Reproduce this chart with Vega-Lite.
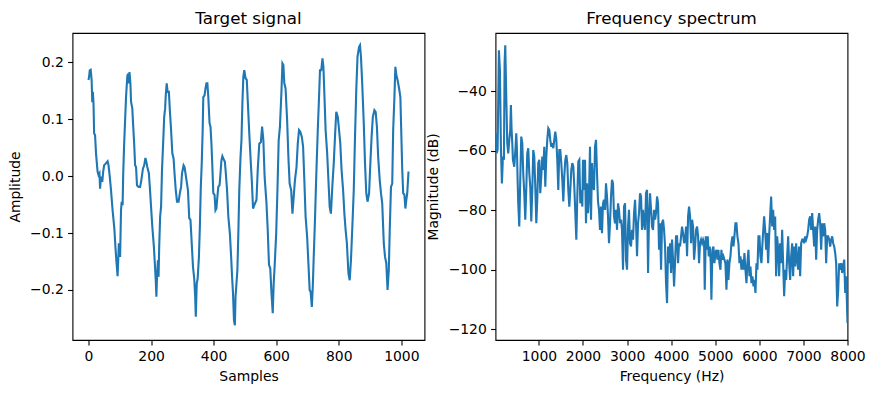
{
"$schema": "https://vega.github.io/schema/vega-lite/v6.json",
"background": "white",
"padding": {"left": 7.5, "top": 10, "right": 5, "bottom": 5},
"spacing": -1,
"config": {
  "font": "DejaVu Sans",
  "view": {"stroke": "black", "strokeWidth": 1.1},
  "axis": {"domain": false, "grid": false, "ticks": true, "tickColor": "black", "tickSize": 4.9, "tickWidth": 1.1, "labelFont": "DejaVu Sans", "labelFontSize": 13.9, "labelColor": "black", "labelPadding": 4.3, "labelOverlap": false, "labelBound": false, "labelFlush": false, "titleFont": "DejaVu Sans", "titleFontSize": 13.9, "titleFontWeight": "normal", "titleColor": "black"},
  "axisX": {"titlePadding": 6},
  "title": {"font": "DejaVu Sans", "fontSize": 16.7, "fontWeight": "normal", "color": "black", "baseline": "alphabetic", "offset": 5}
},
"datasets": {
"signal": [
{"sample":0,"amplitude":0.169},{"sample":2,"amplitude":0.175},{"sample":4,"amplitude":0.186},{"sample":7,"amplitude":0.187},{"sample":10,"amplitude":0.169},{"sample":12,"amplitude":0.13},{"sample":14,"amplitude":0.148},{"sample":16,"amplitude":0.128},{"sample":18,"amplitude":0.075},{"sample":21,"amplitude":0.072},{"sample":24,"amplitude":0.04},{"sample":29,"amplitude":0.008},{"sample":32,"amplitude":0.002},{"sample":35,"amplitude":0.005},{"sample":37,"amplitude":-0.022},{"sample":40,"amplitude":-0.001},{"sample":44,"amplitude":-0.01},{"sample":47,"amplitude":0.008},{"sample":50,"amplitude":0.019},{"sample":55,"amplitude":0.022},{"sample":61,"amplitude":0.026},{"sample":64,"amplitude":0.019},{"sample":68,"amplitude":-0.001},{"sample":72,"amplitude":-0.025},{"sample":77,"amplitude":-0.06},{"sample":80,"amplitude":-0.077},{"sample":83,"amplitude":-0.095},{"sample":86,"amplitude":-0.124},{"sample":89,"amplitude":-0.148},{"sample":93,"amplitude":-0.176},{"sample":95,"amplitude":-0.148},{"sample":97,"amplitude":-0.118},{"sample":99,"amplitude":-0.121},{"sample":101,"amplitude":-0.142},{"sample":104,"amplitude":-0.06},{"sample":106,"amplitude":-0.045},{"sample":109,"amplitude":-0.051},{"sample":111,"amplitude":0.005},{"sample":114,"amplitude":0.057},{"sample":117,"amplitude":0.098},{"sample":120,"amplitude":0.139},{"sample":124,"amplitude":0.175},{"sample":126,"amplitude":0.18},{"sample":128,"amplitude":0.163},{"sample":131,"amplitude":0.183},{"sample":134,"amplitude":0.163},{"sample":136,"amplitude":0.131},{"sample":140,"amplitude":0.119},{"sample":143,"amplitude":0.087},{"sample":146,"amplitude":0.057},{"sample":149,"amplitude":0.019},{"sample":152,"amplitude":0.016},{"sample":155,"amplitude":-0.016},{"sample":160,"amplitude":-0.019},{"sample":165,"amplitude":-0.019},{"sample":169,"amplitude":-0.007},{"sample":174,"amplitude":0.013},{"sample":178,"amplitude":0.019},{"sample":182,"amplitude":0.032},{"sample":185,"amplitude":0.025},{"sample":188,"amplitude":0.016},{"sample":193,"amplitude":0.005},{"sample":196,"amplitude":-0.019},{"sample":200,"amplitude":-0.054},{"sample":204,"amplitude":-0.089},{"sample":209,"amplitude":-0.124},{"sample":212,"amplitude":-0.153},{"sample":215,"amplitude":-0.183},{"sample":217,"amplitude":-0.212},{"sample":219,"amplitude":-0.177},{"sample":222,"amplitude":-0.148},{"sample":224,"amplitude":-0.177},{"sample":226,"amplitude":-0.124},{"sample":229,"amplitude":-0.071},{"sample":232,"amplitude":-0.054},{"sample":235,"amplitude":0.011},{"sample":239,"amplitude":0.063},{"sample":242,"amplitude":0.104},{"sample":245,"amplitude":0.119},{"sample":247,"amplitude":0.142},{"sample":250,"amplitude":0.163},{"sample":253,"amplitude":0.148},{"sample":257,"amplitude":0.148},{"sample":260,"amplitude":0.116},{"sample":264,"amplitude":0.081},{"sample":268,"amplitude":0.04},{"sample":272,"amplitude":0.031},{"sample":275,"amplitude":0.005},{"sample":279,"amplitude":-0.025},{"sample":283,"amplitude":-0.045},{"sample":288,"amplitude":-0.045},{"sample":292,"amplitude":-0.03},{"sample":296,"amplitude":-0.019},{"sample":299,"amplitude":0.005},{"sample":304,"amplitude":0.019},{"sample":307,"amplitude":0.016},{"sample":310,"amplitude":0.005},{"sample":314,"amplitude":-0.01},{"sample":318,"amplitude":-0.025},{"sample":322,"amplitude":-0.074},{"sample":326,"amplitude":-0.077},{"sample":330,"amplitude":-0.118},{"sample":334,"amplitude":-0.159},{"sample":338,"amplitude":-0.18},{"sample":341,"amplitude":-0.212},{"sample":343,"amplitude":-0.247},{"sample":346,"amplitude":-0.189},{"sample":349,"amplitude":-0.18},{"sample":353,"amplitude":-0.142},{"sample":356,"amplitude":-0.089},{"sample":359,"amplitude":-0.019},{"sample":362,"amplitude":0.022},{"sample":365,"amplitude":0.081},{"sample":367,"amplitude":0.139},{"sample":371,"amplitude":0.142},{"sample":374,"amplitude":0.154},{"sample":377,"amplitude":0.163},{"sample":380,"amplitude":0.163},{"sample":383,"amplitude":0.139},{"sample":387,"amplitude":0.093},{"sample":390,"amplitude":0.087},{"sample":393,"amplitude":0.057},{"sample":396,"amplitude":0.016},{"sample":399,"amplitude":-0.03},{"sample":403,"amplitude":-0.033},{"sample":406,"amplitude":-0.06},{"sample":409,"amplitude":-0.057},{"sample":412,"amplitude":-0.036},{"sample":415,"amplitude":-0.019},{"sample":419,"amplitude":-0.016},{"sample":422,"amplitude":0.005},{"sample":425,"amplitude":0.028},{"sample":428,"amplitude":0.035},{"sample":431,"amplitude":0.031},{"sample":436,"amplitude":0.025},{"sample":439,"amplitude":0.005},{"sample":443,"amplitude":-0.025},{"sample":447,"amplitude":-0.071},{"sample":452,"amplitude":-0.101},{"sample":456,"amplitude":-0.142},{"sample":459,"amplitude":-0.177},{"sample":462,"amplitude":-0.206},{"sample":465,"amplitude":-0.253},{"sample":468,"amplitude":-0.262},{"sample":470,"amplitude":-0.212},{"sample":473,"amplitude":-0.189},{"sample":476,"amplitude":-0.165},{"sample":479,"amplitude":-0.101},{"sample":482,"amplitude":-0.025},{"sample":486,"amplitude":0.034},{"sample":489,"amplitude":0.063},{"sample":492,"amplitude":0.128},{"sample":495,"amplitude":0.175},{"sample":498,"amplitude":0.186},{"sample":502,"amplitude":0.172},{"sample":506,"amplitude":0.169},{"sample":510,"amplitude":0.122},{"sample":514,"amplitude":0.075},{"sample":519,"amplitude":0.022},{"sample":522,"amplitude":-0.007},{"sample":526,"amplitude":-0.057},{"sample":530,"amplitude":-0.051},{"sample":537,"amplitude":-0.042},{"sample":541,"amplitude":0.011},{"sample":546,"amplitude":0.057},{"sample":551,"amplitude":0.06},{"sample":555,"amplitude":0.087},{"sample":559,"amplitude":0.063},{"sample":563,"amplitude":-0.001},{"sample":569,"amplitude":-0.048},{"sample":573,"amplitude":-0.095},{"sample":577,"amplitude":-0.156},{"sample":581,"amplitude":-0.162},{"sample":585,"amplitude":-0.206},{"sample":589,"amplitude":-0.241},{"sample":592,"amplitude":-0.189},{"sample":595,"amplitude":-0.159},{"sample":600,"amplitude":-0.101},{"sample":604,"amplitude":-0.025},{"sample":608,"amplitude":0.063},{"sample":612,"amplitude":0.087},{"sample":617,"amplitude":0.151},{"sample":620,"amplitude":0.198},{"sample":623,"amplitude":0.195},{"sample":626,"amplitude":0.163},{"sample":630,"amplitude":0.154},{"sample":635,"amplitude":0.098},{"sample":639,"amplitude":0.034},{"sample":643,"amplitude":-0.013},{"sample":648,"amplitude":-0.025},{"sample":652,"amplitude":-0.066},{"sample":656,"amplitude":-0.036},{"sample":660,"amplitude":-0.007},{"sample":665,"amplitude":0.016},{"sample":669,"amplitude":0.057},{"sample":673,"amplitude":0.081},{"sample":677,"amplitude":0.078},{"sample":682,"amplitude":0.069},{"sample":686,"amplitude":0.052},{"sample":690,"amplitude":-0.007},{"sample":694,"amplitude":-0.071},{"sample":699,"amplitude":-0.107},{"sample":703,"amplitude":-0.153},{"sample":707,"amplitude":-0.2},{"sample":710,"amplitude":-0.203},{"sample":714,"amplitude":-0.23},{"sample":717,"amplitude":-0.194},{"sample":720,"amplitude":-0.142},{"sample":724,"amplitude":-0.077},{"sample":728,"amplitude":-0.001},{"sample":733,"amplitude":0.081},{"sample":737,"amplitude":0.139},{"sample":740,"amplitude":0.186},{"sample":744,"amplitude":0.186},{"sample":748,"amplitude":0.207},{"sample":751,"amplitude":0.192},{"sample":754,"amplitude":0.145},{"sample":758,"amplitude":0.081},{"sample":763,"amplitude":0.04},{"sample":767,"amplitude":-0.007},{"sample":771,"amplitude":-0.054},{"sample":775,"amplitude":-0.066},{"sample":780,"amplitude":-0.013},{"sample":784,"amplitude":0.022},{"sample":788,"amplitude":0.069},{"sample":792,"amplitude":0.113},{"sample":797,"amplitude":0.104},{"sample":801,"amplitude":0.081},{"sample":805,"amplitude":0.057},{"sample":809,"amplitude":0.011},{"sample":814,"amplitude":-0.025},{"sample":818,"amplitude":-0.066},{"sample":822,"amplitude":-0.095},{"sample":826,"amplitude":-0.118},{"sample":831,"amplitude":-0.171},{"sample":835,"amplitude":-0.183},{"sample":839,"amplitude":-0.148},{"sample":843,"amplitude":-0.095},{"sample":848,"amplitude":-0.025},{"sample":852,"amplitude":0.069},{"sample":856,"amplitude":0.151},{"sample":860,"amplitude":0.21},{"sample":865,"amplitude":0.227},{"sample":868,"amplitude":0.23},{"sample":871,"amplitude":0.21},{"sample":875,"amplitude":0.163},{"sample":880,"amplitude":0.093},{"sample":884,"amplitude":0.022},{"sample":888,"amplitude":-0.03},{"sample":892,"amplitude":-0.045},{"sample":897,"amplitude":-0.03},{"sample":901,"amplitude":0.022},{"sample":905,"amplitude":0.069},{"sample":909,"amplitude":0.104},{"sample":914,"amplitude":0.116},{"sample":918,"amplitude":0.113},{"sample":922,"amplitude":0.087},{"sample":926,"amplitude":0.034},{"sample":931,"amplitude":-0.007},{"sample":935,"amplitude":-0.03},{"sample":939,"amplitude":-0.048},{"sample":944,"amplitude":-0.118},{"sample":948,"amplitude":-0.142},{"sample":952,"amplitude":-0.153},{"sample":956,"amplitude":-0.2},{"sample":960,"amplitude":-0.165},{"sample":963,"amplitude":-0.095},{"sample":967,"amplitude":-0.019},{"sample":971,"amplitude":-0.013},{"sample":974,"amplitude":0.081},{"sample":978,"amplitude":0.139},{"sample":981,"amplitude":0.192},{"sample":984,"amplitude":0.178},{"sample":988,"amplitude":0.169},{"sample":993,"amplitude":0.154},{"sample":997,"amplitude":0.139},{"sample":1000,"amplitude":0.075},{"sample":1003,"amplitude":0.011},{"sample":1006,"amplitude":-0.03},{"sample":1010,"amplitude":-0.033},{"sample":1013,"amplitude":-0.057},{"sample":1016,"amplitude":-0.042},{"sample":1019,"amplitude":-0.03},{"sample":1023,"amplitude":0.008}
],
"spectrum": [
{"frequency":15.6,"magnitude":-54},{"frequency":40,"magnitude":-60.9},{"frequency":63,"magnitude":-59.8},{"frequency":93,"magnitude":-26.3},{"frequency":116,"magnitude":-33},{"frequency":138,"magnitude":-58.7},{"frequency":161,"magnitude":-71},{"frequency":184,"magnitude":-62},{"frequency":207,"magnitude":-63.1},{"frequency":222,"magnitude":-30.7},{"frequency":237,"magnitude":-24.6},{"frequency":260,"magnitude":-41.9},{"frequency":282,"magnitude":-57.5},{"frequency":305,"magnitude":-60.9},{"frequency":328,"magnitude":-56.4},{"frequency":350,"magnitude":-53.1},{"frequency":365,"magnitude":-44.7},{"frequency":381,"magnitude":-53.1},{"frequency":396,"magnitude":-57.5},{"frequency":411,"magnitude":-63.1},{"frequency":426,"magnitude":-64.2},{"frequency":441,"magnitude":-65.4},{"frequency":456,"magnitude":-62},{"frequency":471,"magnitude":-58.7},{"frequency":487,"magnitude":-54.2},{"frequency":502,"magnitude":-59.8},{"frequency":517,"magnitude":-69.8},{"frequency":532,"magnitude":-77.7},{"frequency":555,"magnitude":-85.5},{"frequency":577,"magnitude":-69.8},{"frequency":600,"magnitude":-55.3},{"frequency":623,"magnitude":-57.5},{"frequency":645,"magnitude":-67.6},{"frequency":668,"magnitude":-74.3},{"frequency":691,"magnitude":-83.2},{"frequency":713,"magnitude":-73.2},{"frequency":736,"magnitude":-60.9},{"frequency":759,"magnitude":-59.2},{"frequency":782,"magnitude":-67.6},{"frequency":804,"magnitude":-72.1},{"frequency":827,"magnitude":-83.8},{"frequency":850,"magnitude":-73.2},{"frequency":872,"magnitude":-59.8},{"frequency":895,"magnitude":-62},{"frequency":918,"magnitude":-72.1},{"frequency":941,"magnitude":-84.4},{"frequency":963,"magnitude":-76.5},{"frequency":986,"magnitude":-64.2},{"frequency":1009,"magnitude":-63.1},{"frequency":1031,"magnitude":-74.3},{"frequency":1054,"magnitude":-68.7},{"frequency":1077,"magnitude":-62},{"frequency":1099,"magnitude":-66.5},{"frequency":1122,"magnitude":-58.7},{"frequency":1145,"magnitude":-72.1},{"frequency":1168,"magnitude":-62},{"frequency":1190,"magnitude":-56.4},{"frequency":1213,"magnitude":-52.5},{"frequency":1236,"magnitude":-53.1},{"frequency":1258,"magnitude":-56.4},{"frequency":1281,"magnitude":-58.7},{"frequency":1304,"magnitude":-57.5},{"frequency":1327,"magnitude":-59.2},{"frequency":1349,"magnitude":-56.4},{"frequency":1372,"magnitude":-53.6},{"frequency":1395,"magnitude":-56.4},{"frequency":1417,"magnitude":-63.1},{"frequency":1440,"magnitude":-73.2},{"frequency":1463,"magnitude":-59.8},{"frequency":1485,"magnitude":-59.8},{"frequency":1508,"magnitude":-64.2},{"frequency":1531,"magnitude":-69.8},{"frequency":1554,"magnitude":-77.1},{"frequency":1576,"magnitude":-68.7},{"frequency":1599,"magnitude":-63.1},{"frequency":1622,"magnitude":-61.5},{"frequency":1644,"magnitude":-64.2},{"frequency":1667,"magnitude":-73.2},{"frequency":1690,"magnitude":-78.8},{"frequency":1712,"magnitude":-73.2},{"frequency":1735,"magnitude":-66.5},{"frequency":1758,"magnitude":-64.2},{"frequency":1781,"magnitude":-65.4},{"frequency":1803,"magnitude":-72.1},{"frequency":1826,"magnitude":-81},{"frequency":1849,"magnitude":-89.9},{"frequency":1871,"magnitude":-75.4},{"frequency":1894,"magnitude":-63.7},{"frequency":1917,"magnitude":-63.1},{"frequency":1939,"magnitude":-77.7},{"frequency":1962,"magnitude":-73.2},{"frequency":1985,"magnitude":-78.8},
{"frequency":2000,"magnitude":-63.1},{"frequency":2023,"magnitude":-73.2},{"frequency":2046,"magnitude":-63.1},{"frequency":2068,"magnitude":-84.4},{"frequency":2091,"magnitude":-71},{"frequency":2114,"magnitude":-81},{"frequency":2136,"magnitude":-75.4},{"frequency":2159,"magnitude":-58.7},{"frequency":2182,"magnitude":-83.2},{"frequency":2204,"magnitude":-64.2},{"frequency":2227,"magnitude":-72.1},{"frequency":2250,"magnitude":-73.2},{"frequency":2273,"magnitude":-58.7},{"frequency":2295,"magnitude":-56.4},{"frequency":2318,"magnitude":-67.6},{"frequency":2341,"magnitude":-77.1},{"frequency":2363,"magnitude":-79.9},{"frequency":2386,"magnitude":-86.6},{"frequency":2409,"magnitude":-78.8},{"frequency":2431,"magnitude":-87.7},{"frequency":2454,"magnitude":-77.7},{"frequency":2477,"magnitude":-76.5},{"frequency":2500,"magnitude":-79.9},{"frequency":2522,"magnitude":-71},{"frequency":2545,"magnitude":-75.4},{"frequency":2568,"magnitude":-82.1},{"frequency":2590,"magnitude":-91.1},{"frequency":2613,"magnitude":-84.4},{"frequency":2636,"magnitude":-75.4},{"frequency":2658,"magnitude":-69.8},{"frequency":2681,"magnitude":-71},{"frequency":2704,"magnitude":-82.1},{"frequency":2727,"magnitude":-84.4},{"frequency":2749,"magnitude":-79.9},{"frequency":2772,"magnitude":-86.6},{"frequency":2795,"magnitude":-77.7},{"frequency":2817,"magnitude":-79.9},{"frequency":2840,"magnitude":-84.4},{"frequency":2863,"magnitude":-83.2},{"frequency":2885,"magnitude":-86.6},{"frequency":2908,"magnitude":-100},{"frequency":2931,"magnitude":-78.8},{"frequency":2954,"magnitude":-77.7},{"frequency":2976,"magnitude":-96.6},{"frequency":2999,"magnitude":-100},{"frequency":3022,"magnitude":-85.5},{"frequency":3044,"magnitude":-79.9},{"frequency":3067,"magnitude":-91.1},{"frequency":3090,"magnitude":-92.2},{"frequency":3112,"magnitude":-86.6},{"frequency":3135,"magnitude":-89.9},{"frequency":3158,"magnitude":-81},{"frequency":3181,"magnitude":-76.5},{"frequency":3203,"magnitude":-84.4},{"frequency":3226,"magnitude":-95.5},{"frequency":3249,"magnitude":-84.4},{"frequency":3271,"magnitude":-81},{"frequency":3294,"magnitude":-74.3},{"frequency":3317,"magnitude":-75.4},{"frequency":3339,"magnitude":-86.6},{"frequency":3362,"magnitude":-79.9},{"frequency":3385,"magnitude":-84.4},{"frequency":3408,"magnitude":-86.6},{"frequency":3430,"magnitude":-74.3},{"frequency":3453,"magnitude":-73.2},{"frequency":3476,"magnitude":-101.1},{"frequency":3498,"magnitude":-82.1},{"frequency":3521,"magnitude":-74.3},{"frequency":3544,"magnitude":-79.9},{"frequency":3566,"magnitude":-85.5},{"frequency":3589,"magnitude":-86.6},{"frequency":3612,"magnitude":-79.9},{"frequency":3635,"magnitude":-83.2},{"frequency":3657,"magnitude":-81},{"frequency":3680,"magnitude":-75.4},{"frequency":3703,"magnitude":-77.7},{"frequency":3725,"magnitude":-93.3},{"frequency":3748,"magnitude":-84.4},{"frequency":3771,"magnitude":-100},{"frequency":3793,"magnitude":-84.4},{"frequency":3816,"magnitude":-83.2},{"frequency":3839,"magnitude":-86.6},{"frequency":3862,"magnitude":-92.2},{"frequency":3884,"magnitude":-104.5},{"frequency":3907,"magnitude":-111.2},{"frequency":3930,"magnitude":-92.2},{"frequency":3952,"magnitude":-97.8},{"frequency":3975,"magnitude":-91.1},{"frequency":3998,"magnitude":-101.1},{"frequency":4020,"magnitude":-89.9},{"frequency":4043,"magnitude":-96.6},{"frequency":4066,"magnitude":-105.6},
{"frequency":4088,"magnitude":-97.8},{"frequency":4111,"magnitude":-88.8},{"frequency":4134,"magnitude":-88.8},{"frequency":4157,"magnitude":-97.8},{"frequency":4179,"magnitude":-91.1},{"frequency":4202,"magnitude":-92.2},{"frequency":4225,"magnitude":-88.8},{"frequency":4247,"magnitude":-85.5},{"frequency":4270,"magnitude":-87.7},{"frequency":4293,"magnitude":-91.1},{"frequency":4316,"magnitude":-89.9},{"frequency":4338,"magnitude":-85.5},{"frequency":4361,"magnitude":-95.5},{"frequency":4384,"magnitude":-82.1},{"frequency":4406,"magnitude":-78.8},{"frequency":4429,"magnitude":-82.1},{"frequency":4452,"magnitude":-91.1},{"frequency":4475,"magnitude":-83.2},{"frequency":4497,"magnitude":-85.5},{"frequency":4520,"magnitude":-96.6},{"frequency":4543,"magnitude":-92.2},{"frequency":4565,"magnitude":-86.6},{"frequency":4588,"magnitude":-85.5},{"frequency":4611,"magnitude":-88.8},{"frequency":4633,"magnitude":-97.8},{"frequency":4656,"magnitude":-91.1},{"frequency":4679,"magnitude":-89.9},{"frequency":4702,"magnitude":-91.1},{"frequency":4724,"magnitude":-89.9},{"frequency":4747,"magnitude":-91.1},{"frequency":4762,"magnitude":-106.7},{"frequency":4785,"magnitude":-88.8},{"frequency":4808,"magnitude":-93.3},{"frequency":4830,"magnitude":-88.8},{"frequency":4853,"magnitude":-95.5},{"frequency":4876,"magnitude":-92.2},{"frequency":4898,"magnitude":-97.8},{"frequency":4913,"magnitude":-110.1},{"frequency":4936,"magnitude":-93.3},{"frequency":4959,"magnitude":-92.2},{"frequency":4981,"magnitude":-97.8},{"frequency":5004,"magnitude":-94.4},{"frequency":5027,"magnitude":-93.3},{"frequency":5049,"magnitude":-96.6},{"frequency":5072,"magnitude":-93.3},{"frequency":5095,"magnitude":-97.8},{"frequency":5118,"magnitude":-100},{"frequency":5140,"magnitude":-93.3},{"frequency":5163,"magnitude":-96.6},{"frequency":5186,"magnitude":-95.5},{"frequency":5208,"magnitude":-96.6},{"frequency":5231,"magnitude":-97.8},{"frequency":5254,"magnitude":-106.7},{"frequency":5276,"magnitude":-96.6},{"frequency":5299,"magnitude":-103.4},{"frequency":5322,"magnitude":-97.8},{"frequency":5345,"magnitude":-95.5},{"frequency":5367,"magnitude":-91.1},{"frequency":5390,"magnitude":-88.8},{"frequency":5413,"magnitude":-92.2},{"frequency":5435,"magnitude":-88.8},{"frequency":5458,"magnitude":-84.4},{"frequency":5481,"magnitude":-84.4},{"frequency":5503,"magnitude":-88.8},{"frequency":5526,"magnitude":-91.1},{"frequency":5549,"magnitude":-97.8},{"frequency":5572,"magnitude":-95.5},{"frequency":5594,"magnitude":-100},{"frequency":5617,"magnitude":-96.6},{"frequency":5640,"magnitude":-100},{"frequency":5662,"magnitude":-94.4},{"frequency":5685,"magnitude":-100},{"frequency":5708,"magnitude":-104.5},{"frequency":5730,"magnitude":-97.8},{"frequency":5753,"magnitude":-93.3},{"frequency":5776,"magnitude":-102.2},{"frequency":5799,"magnitude":-98.9},{"frequency":5821,"magnitude":-104.5},{"frequency":5844,"magnitude":-102.2},{"frequency":5867,"magnitude":-105.6},{"frequency":5889,"magnitude":-103.4},{"frequency":5912,"magnitude":-107.8},{"frequency":5935,"magnitude":-97.8},{"frequency":5957,"magnitude":-100},{"frequency":5980,"magnitude":-88.8},{"frequency":6003,"magnitude":-88.8},{"frequency":6025,"magnitude":-95.5},{"frequency":6048,"magnitude":-97.8},{"frequency":6071,"magnitude":-91.1},{"frequency":6109,"magnitude":-82.1},
{"frequency":6132,"magnitude":-86.6},{"frequency":6154,"magnitude":-93.3},{"frequency":6177,"magnitude":-87.7},{"frequency":6200,"magnitude":-97.8},{"frequency":6222,"magnitude":-88.8},{"frequency":6245,"magnitude":-82.1},{"frequency":6268,"magnitude":-75.4},{"frequency":6291,"magnitude":-85.5},{"frequency":6313,"magnitude":-79.9},{"frequency":6336,"magnitude":-86.6},{"frequency":6359,"magnitude":-82.1},{"frequency":6381,"magnitude":-102.2},{"frequency":6404,"magnitude":-88.8},{"frequency":6427,"magnitude":-93.3},{"frequency":6449,"magnitude":-102.2},{"frequency":6472,"magnitude":-91.1},{"frequency":6495,"magnitude":-97.8},{"frequency":6518,"magnitude":-86.6},{"frequency":6540,"magnitude":-97.8},{"frequency":6563,"magnitude":-108.9},{"frequency":6586,"magnitude":-100},{"frequency":6608,"magnitude":-103.4},{"frequency":6631,"magnitude":-95.5},{"frequency":6654,"magnitude":-88.8},{"frequency":6676,"magnitude":-97.8},{"frequency":6699,"magnitude":-103.4},{"frequency":6722,"magnitude":-95.5},{"frequency":6745,"magnitude":-91.1},{"frequency":6767,"magnitude":-102.2},{"frequency":6790,"magnitude":-92.2},{"frequency":6813,"magnitude":-98.9},{"frequency":6835,"magnitude":-91.1},{"frequency":6858,"magnitude":-96.6},{"frequency":6881,"magnitude":-100},{"frequency":6903,"magnitude":-92.2},{"frequency":6926,"magnitude":-102.2},{"frequency":6949,"magnitude":-91.1},{"frequency":6972,"magnitude":-89.9},{"frequency":6994,"magnitude":-89.9},{"frequency":7017,"magnitude":-91.1},{"frequency":7040,"magnitude":-88.8},{"frequency":7062,"magnitude":-89.9},{"frequency":7085,"magnitude":-88.8},{"frequency":7108,"magnitude":-86.6},{"frequency":7130,"magnitude":-83.2},{"frequency":7153,"magnitude":-82.1},{"frequency":7176,"magnitude":-86.6},{"frequency":7199,"magnitude":-81},{"frequency":7221,"magnitude":-86.6},{"frequency":7244,"magnitude":-92.2},{"frequency":7267,"magnitude":-85.5},{"frequency":7289,"magnitude":-96.6},{"frequency":7312,"magnitude":-86.6},{"frequency":7335,"magnitude":-83.2},{"frequency":7357,"magnitude":-81},{"frequency":7380,"magnitude":-84.4},{"frequency":7403,"magnitude":-93.3},{"frequency":7426,"magnitude":-84.4},{"frequency":7448,"magnitude":-88.8},{"frequency":7471,"magnitude":-84.4},{"frequency":7494,"magnitude":-86.6},{"frequency":7516,"magnitude":-97.8},{"frequency":7539,"magnitude":-88.8},{"frequency":7562,"magnitude":-88.8},{"frequency":7584,"magnitude":-89.9},{"frequency":7607,"magnitude":-92.2},{"frequency":7630,"magnitude":-89.9},{"frequency":7653,"magnitude":-88.8},{"frequency":7675,"magnitude":-91.1},{"frequency":7698,"magnitude":-92.2},{"frequency":7721,"magnitude":-94.4},{"frequency":7743,"magnitude":-97.8},{"frequency":7766,"magnitude":-112.3},{"frequency":7789,"magnitude":-106.7},{"frequency":7811,"magnitude":-97.8},{"frequency":7834,"magnitude":-100},{"frequency":7857,"magnitude":-97.8},{"frequency":7879,"magnitude":-101.1},{"frequency":7902,"magnitude":-98.9},{"frequency":7925,"magnitude":-96.6},{"frequency":7948,"magnitude":-107.8},{"frequency":7970,"magnitude":-102.2},{"frequency":8000,"magnitude":-117.9}
]
},
"hconcat": [
{
  "width": 352, "height": 307,
  "title": "Target signal",
  "data": {"name": "signal"},
  "mark": {"type": "line", "color": "#1f77b4", "strokeWidth": 2.1, "clip": true},
  "encoding": {
    "x": {"field": "sample", "type": "quantitative", "scale": {"domain": [-51.15, 1074.15], "nice": false, "zero": false}, "axis": {"values": [0, 200, 400, 600, 800, 1000], "format": "d", "title": "Samples"}},
    "y": {"field": "amplitude", "type": "quantitative", "scale": {"domain": [-0.288, 0.2515], "nice": false, "zero": false}, "axis": {"values": [-0.2, -0.1, 0, 0.1, 0.2], "format": ".1f", "title": "Amplitude", "titleX": -52.8, "titleBaseline": "alphabetic"}}
  }
},
{
  "width": 352, "height": 307,
  "title": "Frequency spectrum",
  "data": {"name": "spectrum"},
  "mark": {"type": "line", "color": "#1f77b4", "strokeWidth": 2.1, "clip": true},
  "encoding": {
    "x": {"field": "frequency", "type": "quantitative", "scale": {"domain": [15.625, 8000], "nice": false, "zero": false}, "axis": {"values": [1000, 2000, 3000, 4000, 5000, 6000, 7000, 8000], "format": "d", "title": "Frequency (Hz)"}},
    "y": {"field": "magnitude", "type": "quantitative", "scale": {"domain": [-123.6, -20.5], "nice": false, "zero": false}, "axis": {"values": [-120, -100, -80, -60, -40], "format": "d", "title": "Magnitude (dB)", "titleX": -58.5, "titleBaseline": "alphabetic"}}
  }
}
]
}
